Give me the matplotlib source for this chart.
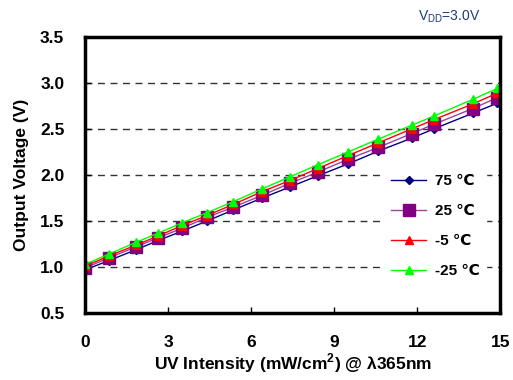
import matplotlib
matplotlib.use("Agg")
import matplotlib.pyplot as plt

plt.rcParams["font.family"] = ["Liberation Sans", "DejaVu Sans"]

uv = [0, 0.85, 1.85, 2.65, 3.5, 4.4, 5.35, 6.4, 7.4, 8.4, 9.5, 10.6, 11.8, 12.6, 14.0, 14.9]
v_75 = [0.97, 1.07, 1.19, 1.29, 1.39, 1.50, 1.62, 1.75, 1.87, 1.99, 2.12, 2.26, 2.40, 2.50, 2.67, 2.78]
v_25 = [0.99, 1.10, 1.22, 1.32, 1.42, 1.54, 1.65, 1.78, 1.91, 2.03, 2.17, 2.30, 2.45, 2.55, 2.72, 2.84]
v_m5 = [1.01, 1.12, 1.24, 1.34, 1.45, 1.56, 1.68, 1.82, 1.94, 2.07, 2.21, 2.35, 2.50, 2.60, 2.77, 2.89]
v_m25 = [1.03, 1.14, 1.27, 1.37, 1.48, 1.59, 1.71, 1.85, 1.98, 2.11, 2.25, 2.39, 2.54, 2.64, 2.82, 2.94]
labels = ["75 \u2103", "25 \u2103", "-5 \u2103", "-25 \u2103"]

fig = plt.figure(figsize=(5.13, 3.8), dpi=100)
ax = fig.add_axes([0.166, 0.176, 0.809, 0.727])

ax.plot(uv, v_75, color="#000080", lw=1, marker="D", ms=4, label=labels[0])
ax.plot(uv, v_25, color="#a040a0", mec="#800080", mfc="#800080", lw=1,
        marker="s", ms=9, label=labels[1])
ax.plot(uv, v_m5, color="#ff0000", lw=1, marker="^", ms=6, label=labels[2])
ax.plot(uv, v_m25, color="#00ff00", lw=1, marker="^", ms=6, label=labels[3])

ax.set_xlim(0, 15)
ax.set_ylim(0.5, 3.5)
ax.set_xticks([0, 3, 6, 9, 12, 15])
ax.set_yticks([0.5, 1.0, 1.5, 2.0, 2.5, 3.0, 3.5])
ax.set_yticklabels(["0.5", "1.0", "1.5", "2.0", "2.5", "3.0", "3.5"])
ax.tick_params(direction="in", labelsize=12.5, length=4, width=1)
for t in ax.get_xticklabels() + ax.get_yticklabels():
    t.set_fontweight("bold")
ax.tick_params(axis="x", pad=16)
ax.tick_params(axis="y", pad=15)

ax.yaxis.grid(True, linestyle=(0, (5, 4)), color="#333333", lw=1)
for s in ax.spines.values():
    s.set_linewidth(2.5)

ax.set_xlabel("UV Intensity (mW/cm$^\\mathregular{2}$) @ \u03bb365nm",
              fontsize=12.5, fontweight="bold", labelpad=1)
ax.set_ylabel("Output Voltage (V)", fontsize=12.5, fontweight="bold", labelpad=8)

leg = ax.legend(loc="lower right", bbox_to_anchor=(0.965, 0.105), frameon=True,
                fontsize=11, handlelength=2.3, labelspacing=1.05,
                borderaxespad=0, handletextpad=0.55)
leg.get_frame().set_edgecolor("white")
leg.get_frame().set_facecolor("white")
leg.get_frame().set_alpha(1)
for t in leg.get_texts():
    t.set_fontweight("bold")

fig.text(0.815, 0.945, "V$_\\mathregular{DD}$=3.0V", fontsize=10, color="#1f3b7a")

fig.savefig("out.png", dpi=100)
